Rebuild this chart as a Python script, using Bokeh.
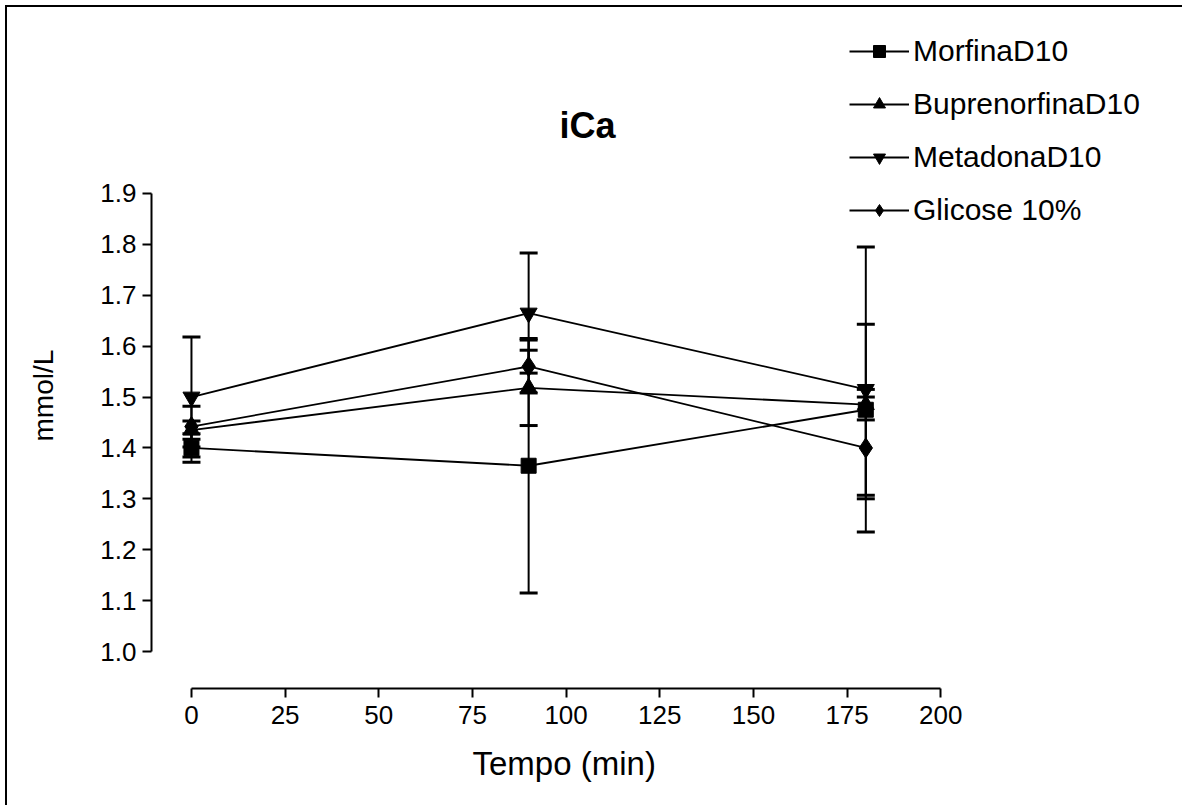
from bokeh.plotting import figure
from bokeh.models import (ColumnDataSource, Whisker, TeeHead, Legend, LegendItem,
                          Range1d, FixedTicker, Label, PrintfTickFormatter, Title)
from bokeh.embed import file_html
from bokeh.resources import INLINE

# ---- data ----
times = [0, 90, 180]
morfina = [1.400, 1.365, 1.475]
morfina_sem = [0.028, 0.250, 0.168]
buprenorfina = [1.435, 1.518, 1.485]
buprenorfina_sem = [0.018, 0.074, 0.030]
metadona = [1.500, 1.665, 1.515]
metadona_sem = [0.118, 0.118, 0.280]
glicose = [1.442, 1.560, 1.400]
glicose_sem = [0.040, 0.052, 0.100]

series_names = ["MorfinaD10", "BuprenorfinaD10", "MetadonaD10", "Glicose 10%"]
x_ticks = [0, 25, 50, 75, 100, 125, 150, 175, 200]
y_ticks = [1.0, 1.1, 1.2, 1.3, 1.4, 1.5, 1.6, 1.7, 1.8, 1.9]

FONT = "Liberation Sans"

# canvas starts at (7,7) of the page because of margin + border
W, H = 1180, 803
p = figure(width=W, height=H, output_backend="svg", toolbar_location=None,
           x_range=Range1d(-10.667, -10.667 + (W + 7 - 150) / 3.75),
           y_range=Range1d(0.9273, 2.2654),
           min_border_left=143, min_border_right=0, min_border_top=0,
           min_border_bottom=H - 681)
p.margin = (5, 0, 0, 5)
p.styles = {"border-top": "2px solid black", "border-left": "2px solid black"}
p.outline_line_color = None
p.xgrid.visible = False
p.ygrid.visible = False
p.background_fill_color = "white"
p.border_fill_color = "white"

for ax in (p.xaxis[0], p.yaxis[0]):
    ax.axis_line_width = 2
    ax.axis_line_color = "black"
    ax.major_tick_line_width = 2
    ax.major_tick_line_color = "black"
    ax.minor_tick_line_color = None
    ax.major_tick_in = 0
    ax.major_tick_out = 9
    ax.major_label_text_font = FONT
    ax.major_label_text_font_size = "26px"
    ax.major_label_text_color = "black"

p.xaxis.bounds = (0, 200)
p.xaxis.ticker = FixedTicker(ticks=x_ticks)
p.xaxis.major_label_standoff = 8

p.yaxis.bounds = (1.0, 1.9)
p.yaxis.ticker = FixedTicker(ticks=y_ticks)
p.yaxis.formatter = PrintfTickFormatter(format="%.1f")
p.yaxis.major_label_standoff = 6

# axis titles (kept in side panels, placed along the bounded axes)
xlab = Title(text="Tempo (min)", align="left", offset=321, standoff=32,
             text_font=FONT, text_font_size="33px", text_font_style="normal",
             text_color="black")
p.add_layout(xlab, "below")
yspace = Title(text=" ", text_font_size="1px", standoff=18)
p.add_layout(yspace, "left")
ylab = Title(text="mmol/L", align="left", offset=247, standoff=36,
             text_font=FONT, text_font_size="28px", text_font_style="normal",
             text_color="black")
p.add_layout(ylab, "left")

series = [
    (morfina, morfina_sem, "square", 15),
    (buprenorfina, buprenorfina_sem, "triangle", 17),
    (metadona, metadona_sem, "inverted_triangle", 17),
    (glicose, glicose_sem, "diamond", 20),
]

items = []
for (vals, sem, marker, size), name in zip(series, series_names):
    src = ColumnDataSource(dict(
        x=times, y=vals,
        upper=[v + s for v, s in zip(vals, sem)],
        lower=[v - s for v, s in zip(vals, sem)],
    ))
    w = Whisker(base="x", upper="upper", lower="lower", source=src,
                line_color="black", line_width=2,
                upper_head=TeeHead(size=18, line_width=3, line_color="black"),
                lower_head=TeeHead(size=18, line_width=3, line_color="black"))
    p.add_layout(w)
    r_line = p.line("x", "y", source=src, line_color="black", line_width=1.8)
    r_mark = p.scatter("x", "y", source=src, marker=marker, size=size,
                       fill_color="black", line_color="black")
    items.append(LegendItem(label=name, renderers=[r_line, r_mark]))

legend = Legend(items=items, location=(698, 461), margin=0, padding=10,
                glyph_width=60, glyph_height=30, label_height=30, spacing=19,
                label_standoff=4, label_text_color="black",
                label_text_font=FONT, label_text_font_size="30px",
                border_line_color=None, background_fill_alpha=0)
p.add_layout(legend, "center")

title = Label(x=436, y=563, x_units="screen", y_units="screen", text="iCa",
              text_font=FONT, text_font_size="36px", text_font_style="bold",
              text_color="black", text_align="center", text_baseline="middle")
p.add_layout(title)

open("out.html", "w").write(file_html(p, INLINE))
